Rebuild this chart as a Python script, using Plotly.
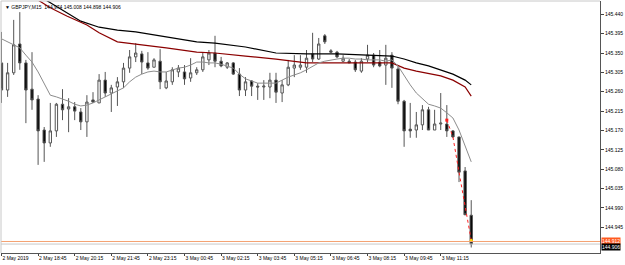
import plotly.graph_objects as go

# ---- data (GBPJPY, M15) ----
bars = list(range(78))
opens = [145.327,145.264,145.304,145.371,145.327,145.266,145.243,145.171,145.141,145.169,
         145.231,145.220,145.225,145.213,145.190,145.241,145.234,145.287,145.257,145.271,
         145.283,145.315,145.341,145.348,145.327,145.317,145.331,145.269,145.283,145.306,
         145.306,145.292,145.304,145.311,145.334,145.350,145.331,145.317,145.327,145.301,
         145.264,145.285,145.273,145.271,145.271,145.287,145.257,145.276,145.315,145.317,
         145.317,145.348,145.336,145.390,145.355,145.352,145.331,145.331,145.329,145.308,
         145.336,145.345,145.329,145.322,145.345,145.313,145.238,145.173,145.171,145.183,
         145.218,145.171,145.185,145.185,145.169,145.155,145.076,144.973]
highs = [145.399,145.327,145.427,145.445,145.334,145.352,145.252,145.178,145.234,145.234,
         145.266,145.245,145.236,145.222,145.252,145.259,145.301,145.306,145.276,145.294,
         145.327,145.357,145.373,145.355,145.352,145.338,145.359,145.306,145.317,145.322,
         145.322,145.338,145.317,145.352,145.357,145.390,145.341,145.329,145.329,145.315,
         145.294,145.287,145.280,145.287,145.304,145.304,145.287,145.334,145.345,145.345,
         145.357,145.397,145.385,145.394,145.359,145.355,145.345,145.336,145.334,145.338,
         145.369,145.350,145.357,145.369,145.352,145.320,145.241,145.234,145.213,145.229,
         145.225,145.218,145.257,145.229,145.171,145.155,145.085,145.008]
lows = [145.234,145.248,145.299,145.311,145.187,145.218,145.090,145.097,145.132,145.155,
        145.194,145.166,145.194,145.171,145.155,145.234,145.234,145.248,145.213,145.227,
        145.269,145.304,145.329,145.301,145.311,145.317,145.266,145.266,145.276,145.294,
        145.276,145.283,145.299,145.306,145.322,145.317,145.317,145.313,145.299,145.250,
        145.250,145.250,145.241,145.241,145.245,145.234,145.236,145.273,145.294,145.311,
        145.304,145.329,145.334,145.371,145.350,145.338,145.329,145.327,145.306,145.304,
        145.329,145.317,145.317,145.276,145.269,145.231,145.132,145.153,145.153,145.171,
        145.171,145.171,145.171,145.155,145.153,145.050,144.974,144.898]
closes = [145.264,145.304,145.369,145.327,145.264,145.241,145.169,145.141,145.169,145.231,
          145.218,145.225,145.215,145.190,145.236,145.236,145.287,145.257,145.269,145.283,
          145.315,145.341,145.350,145.329,145.315,145.334,145.283,145.285,145.311,145.315,
          145.290,145.304,145.311,145.341,145.350,145.331,145.320,145.327,145.301,145.264,
          145.283,145.273,145.271,145.273,145.287,145.259,145.276,145.317,145.322,145.322,
          145.338,145.336,145.371,145.376,145.352,145.341,145.338,145.327,145.311,145.331,
          145.345,145.322,145.320,145.338,145.315,145.238,145.169,145.169,145.183,145.218,
          145.171,145.185,145.187,145.169,145.155,145.073,144.974,144.906]

# fast moving average (grey), read per bar
ma_fast = [145.383,145.376,145.369,145.362,145.345,145.329,145.306,145.278,145.252,145.248,
           145.243,145.238,145.231,145.227,145.229,145.234,145.241,145.248,145.255,145.262,
           145.269,145.283,145.294,145.301,145.306,145.308,145.306,145.306,145.311,145.315,
           145.317,145.322,145.329,145.329,145.327,145.327,145.324,145.320,145.315,145.301,
           145.290,145.285,145.280,145.280,145.280,145.280,145.287,145.294,145.299,145.304,
           145.311,145.320,145.327,145.331,145.334,145.336,145.338,145.338,145.336,145.336,
           145.334,145.334,145.334,145.331,145.334,145.320,145.297,145.276,145.257,145.243,
           145.231,145.227,145.222,145.211,145.199,145.171,145.134,145.097]

# medium moving average (dark red)
ma_mid_bars = [5, 6, 8, 10.7, 14, 16, 19, 22, 27, 32, 35, 40, 45, 50, 55, 60, 64, 66, 68, 72, 74, 76, 77]
ma_mid = [145.480,145.473,145.455,145.436,145.415,145.397,145.376,145.371,145.362,145.352,145.350,
          145.343,145.336,145.327,145.327,145.327,145.327,145.315,145.308,145.297,145.287,145.271,145.250]

# slow moving average (black)
ma_slow_bars = [7, 9, 11, 13, 16, 19, 22, 27, 32, 35, 40, 45, 50, 55, 60, 64, 66, 68, 70, 72, 74, 76, 77]
ma_slow = [145.4755,145.459,145.441,145.424,145.410,145.403,145.399,145.387,145.376,145.373,145.364,
           145.350,145.348,145.348,145.345,145.343,145.336,145.327,145.320,145.311,145.301,145.287,145.276]

# red dotted projection
proj_bars = [73, 74, 75, 76, 77]
proj = [145.194, 145.155, 145.073, 144.992, 144.915]

x_tickvals = [0, 6, 12, 18, 24, 30, 36, 42, 48, 54, 60, 66, 72]
x_ticktext = ["2 May 2019", "2 May 18:45", "2 May 20:15", "2 May 21:45", "2 May 23:15",
              "3 May 00:45", "3 May 02:15", "3 May 03:45", "3 May 05:15", "3 May 06:45",
              "3 May 08:15", "3 May 09:45", "3 May 11:15"]
y_tickvals = [145.440, 145.395, 145.350, 145.305, 145.260, 145.215, 145.170,
              145.125, 145.080, 145.035, 144.990, 144.945]

bid = 144.906
ask = 144.912
title_text = "GBPJPY,M15  144.974 145.008 144.898 144.906"

FONT = "Liberation Sans"

fig = go.Figure()
fig.add_trace(go.Candlestick(
    x=bars, open=opens, high=highs, low=lows, close=closes,
    increasing=dict(line=dict(color="#555555", width=1), fillcolor="white"),
    decreasing=dict(line=dict(color="#555555", width=1), fillcolor="black"),
    whiskerwidth=0, hoverinfo="skip"))
fig.add_trace(go.Scatter(x=ma_slow_bars, y=ma_slow, mode="lines",
                         line=dict(color="black", width=1.2), hoverinfo="skip"))
fig.add_trace(go.Scatter(x=ma_mid_bars, y=ma_mid, mode="lines",
                         line=dict(color="#8b0000", width=1.2), hoverinfo="skip"))
fig.add_trace(go.Scatter(x=bars, y=ma_fast, mode="lines",
                         line=dict(color="#8c8c8c", width=1), hoverinfo="skip"))
fig.add_trace(go.Scatter(x=proj_bars, y=proj, mode="lines",
                         line=dict(color="#ff2020", width=1, dash="dot"), hoverinfo="skip"))
fig.add_trace(go.Scatter(x=[proj_bars[0]], y=[proj[0]], mode="markers",
                         marker=dict(color="#ff2020", size=3, symbol="square"), hoverinfo="skip"))
fig.add_trace(go.Scatter(x=[proj_bars[-1]], y=[proj[-1]], mode="markers",
                         marker=dict(color="#ffd700", size=3), hoverinfo="skip"))

# bid / ask lines
fig.add_shape(type="line", xref="paper", x0=0, x1=1, yref="y", y0=ask, y1=ask,
              line=dict(color="#f4a070", width=1))
fig.add_shape(type="line", xref="paper", x0=0, x1=1, yref="y", y0=bid, y1=bid,
              line=dict(color="#c8c8c8", width=1))
# frame
fig.add_shape(type="line", xref="paper", yref="paper", x0=0, x1=1, y0=1, y1=1,
              line=dict(color="#c8c8c8", width=1))
fig.add_shape(type="line", xref="paper", yref="paper", x0=0, x1=0, y0=0, y1=1,
              line=dict(color="#c8c8c8", width=1))

fig.add_annotation(xref="paper", yref="y", x=1, y=ask + 0.002, text=f"{ask:.3f}",
                   showarrow=False, xanchor="left", xshift=1, bgcolor="#ff5a1f",
                   font=dict(family=FONT, size=5, color="white"), borderpad=0)
fig.add_annotation(xref="paper", yref="y", x=1, y=bid - 0.006, text=f"{bid:.3f}",
                   showarrow=False, xanchor="left", xshift=1, bgcolor="black",
                   font=dict(family=FONT, size=5, color="white"), borderpad=0)
fig.add_annotation(xref="paper", yref="paper", x=0, y=1, text="▼ " + title_text,
                   showarrow=False, xanchor="left", yanchor="top", xshift=2, yshift=-1,
                   font=dict(family=FONT, size=5, color="black"))

fig.update_layout(
    width=625, height=265,
    margin=dict(l=1, r=25, t=1, b=12),
    paper_bgcolor="white", plot_bgcolor="white",
    showlegend=False, boxgap=0.45,
    xaxis=dict(range=[-0.082, 98.11], rangeslider=dict(visible=False),
               tickvals=x_tickvals, ticktext=x_ticktext, ticklabelposition="outside right",
               tickangle=0, ticks="outside", ticklen=2, tickcolor="#444",
               showgrid=False, zeroline=False, showline=True, linecolor="#555", linewidth=1,
               tickfont=dict(family=FONT, size=5, color="black")),
    yaxis=dict(range=[144.8852, 145.4709], side="right", tickvals=y_tickvals,
               tickformat=".3f", ticks="outside", ticklen=3, tickcolor="#444",
               showgrid=False, zeroline=False, showline=True, linecolor="#555", linewidth=1,
               tickfont=dict(family=FONT, size=5, color="black")),
)

fig.write_html("out.html")
